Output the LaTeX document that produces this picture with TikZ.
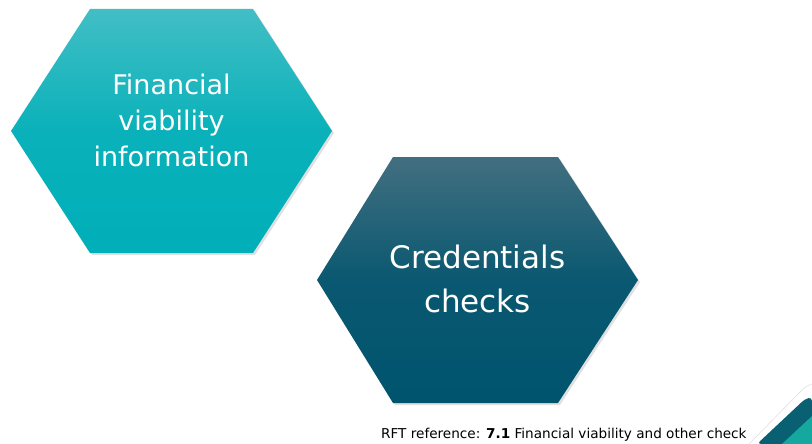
\documentclass[tikz,border=0pt]{standalone}
\usepackage{fontspec}
\setmainfont{DejaVu Sans}
\usetikzlibrary{positioning,calc}

\definecolor{tealtop}{RGB}{66,190,197}
\definecolor{tealbot}{RGB}{0,175,184}
\definecolor{navytop}{RGB}{66,111,128}
\definecolor{navybot}{RGB}{0,84,110}
\definecolor{cornerdark}{RGB}{8,96,114}
\definecolor{cornerteal}{RGB}{20,168,158}

\begin{document}
\begin{tikzpicture}[
  x=1pt, y=-1pt,
  hexshadow/.style={fill=black, opacity=0.12},
  hex_fin/.style={top color=tealtop, bottom color=tealbot, middle color=tealbot!85!tealtop, draw=none},
  hex_cred/.style={top color=navytop, bottom color=navybot, middle color=navybot!85!navytop, draw=none},
  hex_txt/.style={text=white, align=center, inner sep=0pt}
]
\useasboundingbox (0,0) rectangle (812,444);

% --- Hexagono superior (financeiro) ---
\fill[hexshadow] (13,133) -- (92,11) -- (255,11) -- (334,133) -- (255,255) -- (92,255) -- cycle;
\path[hex_fin] (11,131) -- (90,9) -- (253,9) -- (332,131) -- (253,253) -- (90,253) -- cycle;
\node[hex_txt, font=\fontsize{27}{36}\selectfont] (fin) at (171.5,120) {Financial\\viability\\information};

% --- Hexagono inferior (credenciais) ---
\fill[hexshadow] (319,282) -- (395,159) -- (560,159) -- (640,282) -- (560,405) -- (395,405) -- cycle;
\path[hex_cred] (317,280) -- (393,157) -- (558,157) -- (638,280) -- (558,403) -- (393,403) -- cycle;
\node[hex_txt, font=\fontsize{31}{44}\selectfont] (cred) at (477.5,279) {Credentials\\checks};

% --- Referencia ---
\node[anchor=base west, inner sep=0pt, font=\fontsize{13.6}{16}\selectfont] (rft) at (381,438)
  {RFT reference: \textbf{7.1} Financial viability and other check};

% --- Canto decorativo ---
\draw[black!12, line width=0.6pt, rounded corners=4pt] (749,444) -- (806,386) -- (812,384);
\fill[cornerdark, rounded corners=4pt] (757,444) -- (805,399) -- (812,397) -- (812,444) -- cycle;
\fill[cornerteal] (782,444) -- (812,416) -- (812,444) -- cycle;

\end{tikzpicture}
\end{document}
